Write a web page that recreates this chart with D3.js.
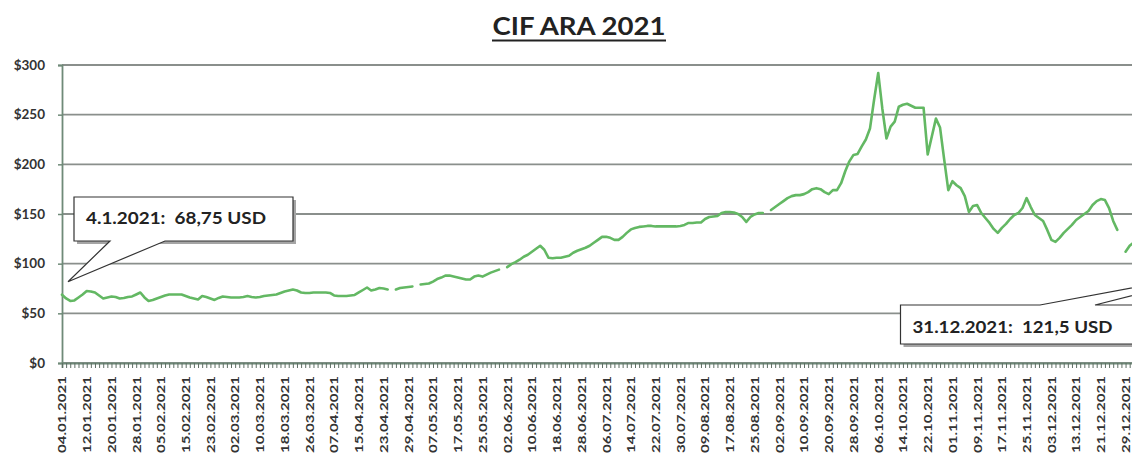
<!DOCTYPE html>
<html><head><meta charset="utf-8">
<script src="https://cdn.jsdelivr.net/npm/d3@7"></script>
<style>
html,body{margin:0;padding:0;background:#fff;}
svg{display:block;}
text{font-family:Lato,"Open Sans",sans-serif;}
</style></head><body>
<svg id="chart" width="1132" height="455"></svg>
<script>
const chartTitle = "CIF ARA 2021";
const tickLabels = ["04.01.2021","12.01.2021","20.01.2021","28.01.2021","05.02.2021","15.02.2021","23.02.2021","02.03.2021","10.03.2021","18.03.2021","26.03.2021","07.04.2021","15.04.2021","23.04.2021","29.04.2021","07.05.2021","17.05.2021","25.05.2021","02.06.2021","10.06.2021","18.06.2021","28.06.2021","06.07.2021","14.07.2021","22.07.2021","30.07.2021","09.08.2021","17.08.2021","25.08.2021","02.09.2021","10.09.2021","20.09.2021","28.09.2021","06.10.2021","14.10.2021","22.10.2021","01.11.2021","09.11.2021","17.11.2021","25.11.2021","03.12.2021","13.12.2021","21.12.2021","29.12.2021"];
const labelEvery = 6;
// daily CIF ARA price, USD/t (null = missing day)
const prices = [
68.75,65,62.5,63,66,69,72.5,72,71,68,
65,66,67,66.5,65,65.5,66.5,67,69,71,
66,62.5,63.5,65,66.5,68,69,69,69,69,
67.5,66,65,64,67.5,66.5,65,63.5,65.5,67,
66.5,66,66,66,66.5,67.5,66.5,66,66.5,67.5,
68,68.5,69,70.5,72,73,74,73,71,70.5,
70.5,71,71,71,71,70.5,68,67.5,67.5,67.5,
68,68.5,71,73.5,76,73,74,75.5,75,74,
null,74,75.5,76,76.5,77,null,79,79.5,80,
82,84.5,86,88,88,87,86,85,84,84,
87,88,87,89,91,92.5,94,null,96.5,99.5,
101.5,104,107,109,112,115,118,114,106,105.5,
106,106,107,108,111,113,114.5,116,118,121,
124,127,127,126,124,124,127,131,134.5,136,
137,137.5,138,138,137.5,137.5,137.5,137.5,137.5,137.5,
138,139,141,141,141.5,141.5,145,147,147.5,148,
151,152,152,151.5,150,147,142,147,149.5,151,
151,null,154,157,160,163,166,168,169,169,
170,172,175,176,175,172,170,174,174,181,
193,203,209.5,210.5,218,225,236,265,292,256,
226,238,243,258,260,261,259,257,257,257,
210,228,246,237,205,174,183,179,176,168,
152,158,159,151,146,141,135,131,136,140,
145,149,151,156,166,157,149,146,143,134,
124,122,126,131,135,139,144,147,150,153,
159,163,165,164,156,143,134,null,112,118,
121.5
];
const yTicks = [0,50,100,150,200,250,300];
const firstNote = "4.1.2021:  68,75 USD";
const lastNote = "31.12.2021:  121,5 USD";

const svg = d3.select("#chart");
svg.append("rect").attr("width",1132).attr("height",455).attr("fill","#fff");

const x = d3.scaleLinear().domain([0, prices.length - 1]).range([62, 1133.8]);
const y = d3.scaleLinear().domain([0, 300]).range([363, 65]);

// title
svg.append("text").attr("x",579).attr("y",35).attr("text-anchor","middle")
  .attr("font-size",25).attr("font-weight","bold").attr("fill","#222")
  .attr("textLength",173).attr("lengthAdjust","spacingAndGlyphs").text(chartTitle);
svg.append("line").attr("x1",492).attr("x2",666).attr("y1",40.5).attr("y2",40.5)
  .attr("stroke","#222").attr("stroke-width",2);

// gridlines
svg.append("g").selectAll("line").data(yTicks).join("line")
  .attr("x1",62).attr("x2",1132).attr("y1",d=>y(d)).attr("y2",d=>y(d))
  .attr("stroke","#8a8f8c").attr("stroke-width",1.8);

// y axis
const yAxis = svg.append("g").attr("transform","translate(62,0)")
  .call(d3.axisLeft(y).tickValues(yTicks).tickSize(4).tickPadding(13).tickFormat(d=>"$"+d));
yAxis.select(".domain").attr("stroke","#6f8a78").attr("stroke-width",1.8);
yAxis.selectAll(".tick line").attr("stroke","#6f8a78").attr("stroke-width",1.5);
yAxis.selectAll("text").attr("font-size",13.5).attr("font-weight","bold").attr("fill","#333")
  .attr("font-family","Lato,sans-serif");

// x axis
const xAxis = svg.append("g").attr("transform","translate(0,363)")
  .call(d3.axisBottom(x).tickValues(d3.range(0, prices.length)).tickSize(5)
    .tickFormat(i => i % labelEvery === 0 && tickLabels[i/labelEvery] ? tickLabels[i/labelEvery] : ""));
xAxis.select(".domain").attr("stroke","#6f8a78").attr("stroke-width",1.8);
xAxis.selectAll(".tick line").attr("stroke","#5e6e64").attr("stroke-width",1);
xAxis.selectAll("text")
  .attr("transform","rotate(-90)").attr("x",-13).attr("y",0).attr("dy","0.35em")
  .attr("text-anchor","end").attr("font-size",11).attr("font-weight","bold")
  .attr("fill","#333").attr("font-family","Lato,sans-serif")
  .each(function(){ if (this.textContent) d3.select(this).attr("textLength",77).attr("lengthAdjust","spacingAndGlyphs"); });

// price line
const line = d3.line().defined(d => d != null).x((d,i)=>x(i)).y(d=>y(d));
svg.append("path").datum(prices).attr("d",line)
  .attr("fill","none").attr("stroke","#63b863").attr("stroke-width",2.6)
  .attr("stroke-linejoin","round").attr("stroke-linecap","round");

// callouts
function callout(box, d, textStr, tx, ty, tlen){
  const g = svg.append("g");
  g.append("rect").attr("x",box[0]+3).attr("y",box[1]+3).attr("width",box[2]).attr("height",box[3]).attr("fill","#a5a5a5");
  g.append("path").attr("d",d).attr("fill","#fff").attr("stroke","#333").attr("stroke-width",1.2);
  g.append("text").attr("x",tx).attr("y",ty).attr("font-size",17).attr("font-weight","bold")
    .attr("fill","#222").style("white-space","pre")
    .attr("textLength",tlen).attr("lengthAdjust","spacingAndGlyphs").text(textStr);
}
const p0x = x(0), p0y = y(prices[0]);
callout([74,197,219,44], `M74,197 H293 V241 H165 L${p0x+6},${p0y-13} L110,241 H74 Z`, firstNote, 86, 224, 180);
callout([900.5,305,250,39], `M900.5,305 H1040 L1250,266 L1095,305 H1150 V344 H900.5 Z`, lastNote, 912.5, 333, 200);
</script>
</body></html>
